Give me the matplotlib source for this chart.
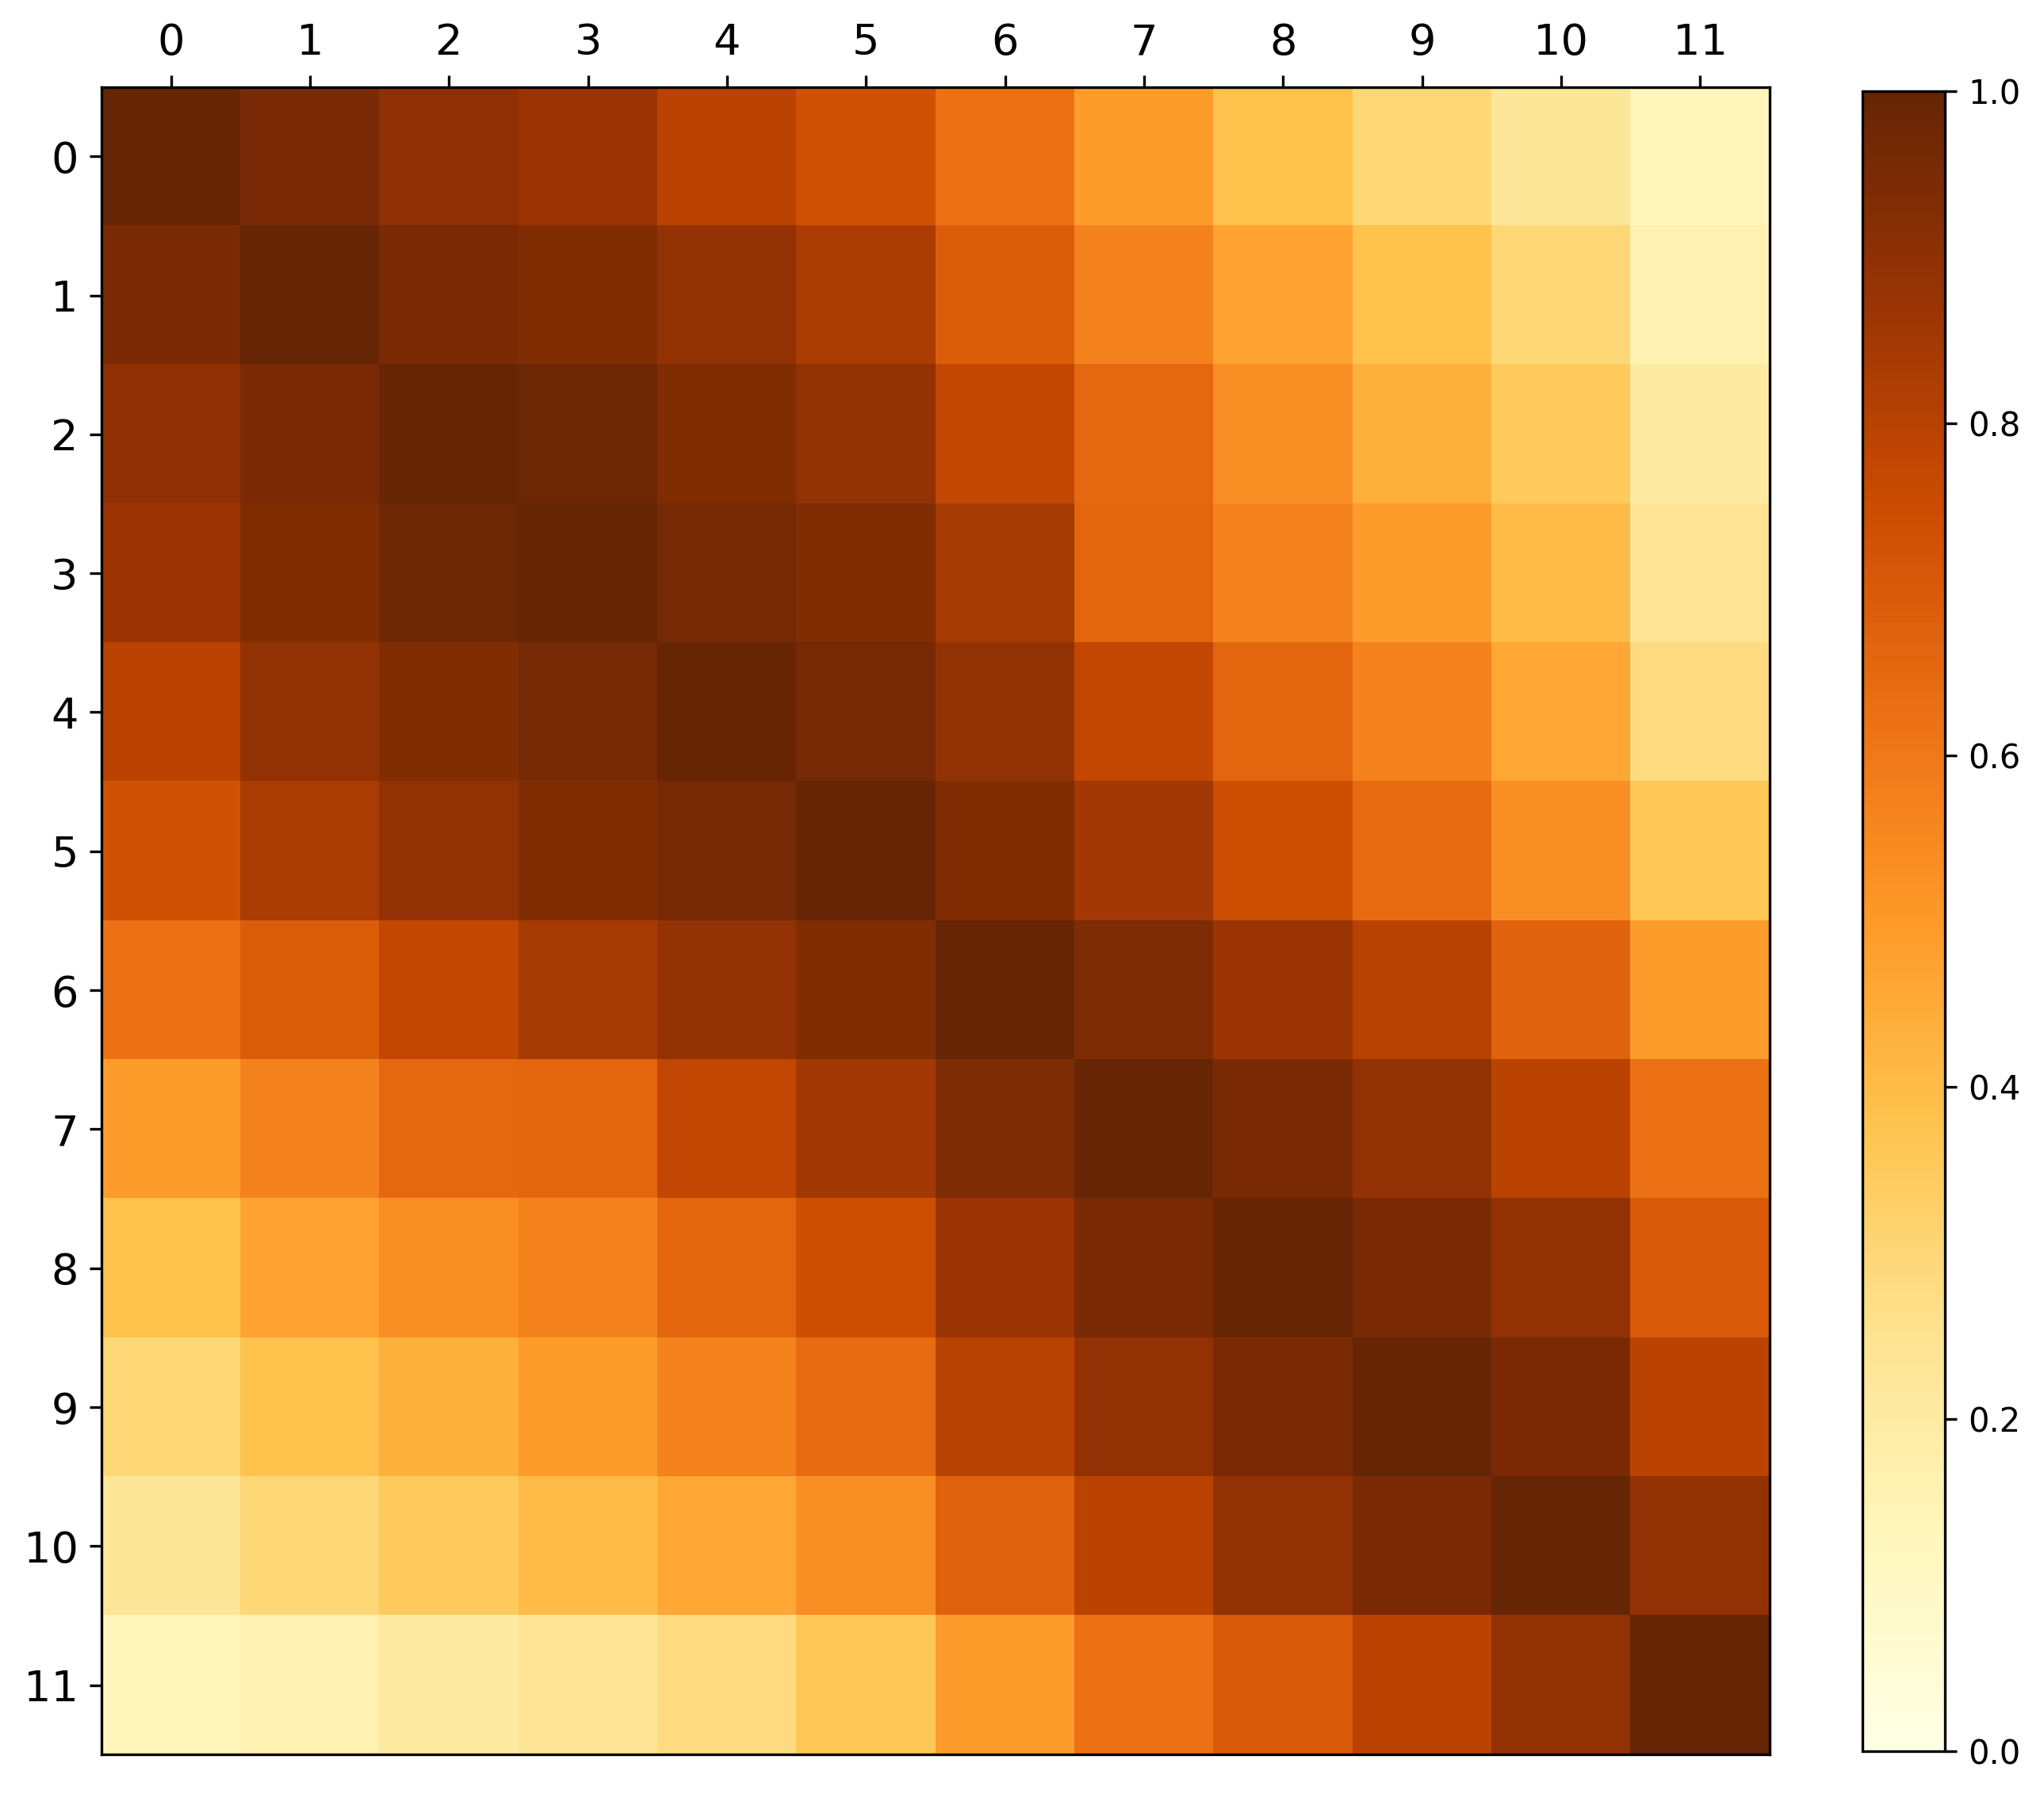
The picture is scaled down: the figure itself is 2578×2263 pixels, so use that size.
import numpy as np
import matplotlib
matplotlib.use('Agg')
import matplotlib.pyplot as plt

# upper triangle of the symmetric matrix, read row by row (diagonal = 1)
row0 = [1.00, 0.95, 0.90, 0.87, 0.79, 0.73, 0.62, 0.49, 0.38, 0.30, 0.23, 0.13]
row1 = [1.00, 0.95, 0.93, 0.89, 0.83, 0.69, 0.57, 0.47, 0.38, 0.30, 0.16]
row2 = [1.00, 0.98, 0.93, 0.89, 0.77, 0.65, 0.53, 0.43, 0.35, 0.20]
row3 = [1.00, 0.96, 0.93, 0.84, 0.66, 0.57, 0.49, 0.40, 0.24]
row4 = [1.00, 0.96, 0.89, 0.77, 0.66, 0.57, 0.46, 0.28]
row5 = [1.00, 0.93, 0.85, 0.74, 0.64, 0.53, 0.36]
row6 = [1.00, 0.94, 0.87, 0.80, 0.67, 0.49]
row7 = [1.00, 0.95, 0.89, 0.79, 0.62]
row8 = [1.00, 0.95, 0.89, 0.70]
row9 = [1.00, 0.95, 0.79]
row10 = [1.00, 0.89]
row11 = [1.00]

upper = [row0, row1, row2, row3, row4, row5, row6, row7, row8, row9, row10, row11]
n = len(upper)
corr = np.zeros((n, n))
for i, r in enumerate(upper):
    corr[i, i:] = r
    corr[i:, i] = r

fig = plt.figure(figsize=(2578 / 300, 2263 / 300), dpi=300)
ax = fig.add_axes([0.04965, 0.02165, 0.8161, 0.9302])
cax = fig.add_axes([0.9112, 0.02386, 0.0403, 0.9253])

im = ax.matshow(corr, cmap='YlOrBr', vmin=0, vmax=1)
ax.set_xticks(range(n))
ax.set_yticks(range(n))
ax.tick_params(labelsize=13)
ax.tick_params(axis='x', bottom=False)

cb = fig.colorbar(im, cax=cax)
cb.ax.tick_params(labelsize=10)

fig.savefig('out.png', dpi=300)
